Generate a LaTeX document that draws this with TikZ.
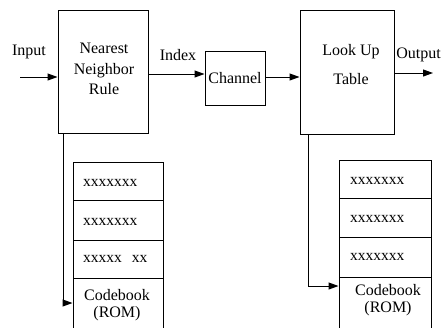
\documentclass[tikz,border=0pt]{standalone}
\usepackage{fontspec}
\setmainfont{Liberation Serif}
\usetikzlibrary{arrows.meta}
\begin{document}
\begin{tikzpicture}[x=1pt,y=-1pt,
  box/.style={draw,line width=1pt,inner sep=0pt},
  lbl/.style={font=\fontsize{16}{17}\selectfont,inner sep=0pt,align=center},
  cell/.style={font=\fontsize{15.5}{15}\selectfont,inner sep=0pt,anchor=west},
  arr/.style={line width=1pt,-{Triangle[length=10pt,width=7pt]}},
  ln/.style={line width=1pt}]
\useasboundingbox (0,0) rectangle (442,327);
\clip (0,0) rectangle (442,327);
% main blocks
\node[box,minimum width=90pt,minimum height=123pt] (nnr) at (103,71.5) {};
\node[lbl] (nnrt) at (104,69) {Nearest\\[4pt]Neighbor\\[3pt]Rule};
\node[box,minimum width=60pt,minimum height=54pt,lbl] (ch) at (235,78) {Channel};
\node[box,minimum width=94pt,minimum height=124pt] (lut) at (347,72) {};
\node[lbl] (lutt) at (351,65) {Look Up\\[12pt]Table};
% labels
\node[lbl] (inl) at (29,52) {Input};
\node[lbl] (idxl) at (178,55) {Index};
\node[lbl,anchor=east] (outl) at (441,55) {Output};
% left codebook stack
\draw[box] (73,162) rectangle (163,200);
\draw[box] (73,200) rectangle (163,240);
\draw[box] (73,240) rectangle (163,278);
\draw[box] (73,278) rectangle (163,335);
\node[box,draw=none,minimum width=90pt,minimum height=38pt] (l1) at (118,181) {};
\node[box,draw=none,minimum width=90pt,minimum height=40pt] (l2) at (118,220) {};
\node[box,draw=none,minimum width=90pt,minimum height=38pt] (l3) at (118,259) {};
\node[box,draw=none,minimum width=90pt,minimum height=50pt] (l4) at (118,303) {};
\node[cell] (l1t) at (83,183) {xxxxxxx};
\node[cell] (l2t) at (83,222) {xxxxxxx};
\node[cell] (l3t) at (83,259) {xxxxx\hspace{10pt}xx};
\node[lbl] (l4t) at (117,305) {Codebook\\(ROM)};
% right codebook stack
\draw[box] (339,160) rectangle (431,198);
\draw[box] (339,198) rectangle (431,237);
\draw[box] (339,237) rectangle (431,277);
\draw[box] (339,277) rectangle (431,335);
\node[box,draw=none,minimum width=92pt,minimum height=38pt] (r1) at (385,179) {};
\node[box,draw=none,minimum width=92pt,minimum height=39pt] (r2) at (385,217.5) {};
\node[box,draw=none,minimum width=92pt,minimum height=40pt] (r3) at (385,257) {};
\node[box,draw=none,minimum width=92pt,minimum height=40pt] (r4) at (385,297) {};
\node[cell] (r1t) at (350,181) {xxxxxxx};
\node[cell] (r2t) at (350,219) {xxxxxxx};
\node[cell] (r3t) at (350,257) {xxxxxxx};
\node[lbl] (r4t) at (388,300) {Codebook\\(ROM)};
% connectors
\coordinate (inS) at (20,77);
\coordinate (outE) at (433,73);
\coordinate (yi) at (0,74);
\coordinate (yc) at (0,77);
\coordinate (lx) at (63,0);
\coordinate (ly) at (0,303);
\coordinate (rx) at (308,0);
\coordinate (ry) at (0,286);
\draw[arr] (inS) -- (nnr.west |- inS);
\draw[arr] (nnr.east |- yi) -- (ch.west |- yi);
\draw[arr] (ch.east |- yc) -- (lut.west |- yc);
\draw[arr] (lut.east |- outE) -- (outE);
\draw[arr] (nnr.south -| lx) -- (lx |- ly) -- (l4.west |- ly);
\draw[arr] (lut.south -| rx) -- (rx |- ry) -- (r4.west |- ry);
\end{tikzpicture}
\end{document}
